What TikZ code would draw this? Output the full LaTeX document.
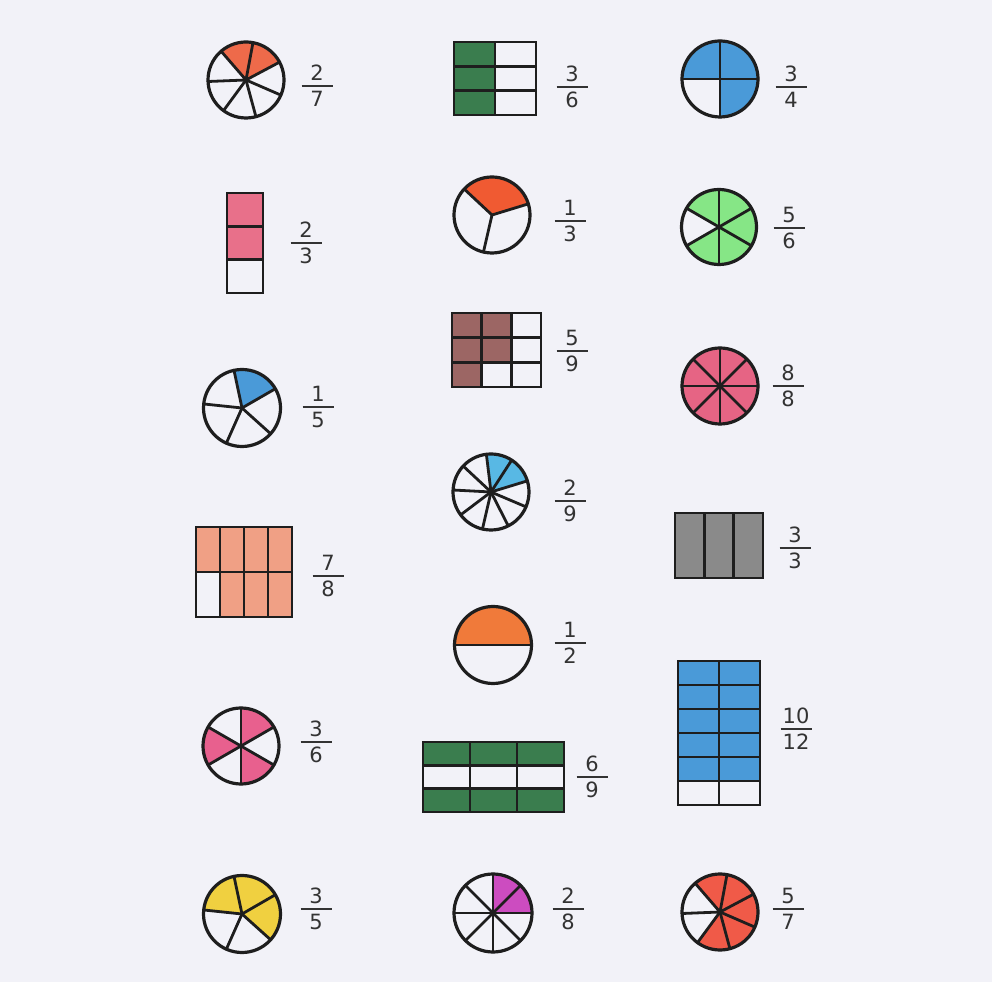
\documentclass[tikz,border=0pt]{standalone}
\usepackage{fontspec}
\setmainfont{DejaVu Sans}

\definecolor{paper}{HTML}{F2F2F8}
\definecolor{ink}{HTML}{1E1E1E}
\definecolor{digit}{HTML}{333333}
\definecolor{redorange}{HTML}{EE6A4A}
\definecolor{rosepink}{HTML}{E8708A}
\definecolor{skyblue}{HTML}{4A9AD8}
\definecolor{salmon}{HTML}{F0A085}
\definecolor{hotpink}{HTML}{E8608E}
\definecolor{sunyellow}{HTML}{F0D040}
\definecolor{pinegreen}{HTML}{3A7D4E}
\definecolor{tomato}{HTML}{F05A32}
\definecolor{cocoa}{HTML}{9C6664}
\definecolor{iceblue}{HTML}{58B8E4}
\definecolor{tangerine}{HTML}{F07A3A}
\definecolor{orchid}{HTML}{CC4CC0}
\definecolor{mint}{HTML}{86E686}
\definecolor{blush}{HTML}{E66484}
\definecolor{slate}{HTML}{8A8A8A}
\definecolor{scarlet}{HTML}{F05A48}

\tikzset{
  rim/.style={draw=ink, line width=3.2pt},
  spoke/.style={draw=ink, line width=2.8pt, line cap=round},
  cellline/.style={draw=ink, line width=2.8pt, line cap=rect},
  frac/.style={inner sep=0pt, text=digit, font=\fontsize{21}{23}\selectfont},
}

% fraction as number over bar over number
\newcommand{\frc}[2]{\vbox{\hbox to 31pt{\hss#1\hss}\kern4pt\hrule height 2.4pt\kern4pt\hbox to 31pt{\hss#2\hss}}}

% #1 centre, #2 radius, #3 parts, #4 first spoke angle, #5 shaded sectors, #6 colour
\newcommand{\piechart}[6]{%
  \foreach \shd in {#5}
    \fill[#6] (#1) -- ++({#4+\shd*360/#3}:#2)
      arc[start angle={#4+\shd*360/#3}, delta angle={360/#3}, radius=#2] -- cycle;
  \foreach \spk in {1,...,#3}
    \draw[spoke] (#1) -- ++({#4+\spk*360/#3}:#2);
  \draw[rim] (#1) circle[radius=#2];
}

% #1 x0, #2 y0 (lower left), #3 cell width, #4 cell height, #5 columns, #6 rows,
% #7 shaded cells col/row (rows from the top), #8 colour
\newcommand{\gridchart}[8]{%
  \foreach \cc/\rr in {#7}
    \fill[#8] ({#1+(\cc-1)*#3},{#2+(#6-\rr)*#4}) rectangle ++(#3,#4);
  \foreach \cc in {0,...,#5}
    \draw[cellline] ({#1+\cc*#3},#2) -- ++(0,{#6*#4});
  \foreach \rr in {0,...,#6}
    \draw[cellline] (#1,{#2+\rr*#4}) -- ++({#5*#3},0);
}

\begin{document}
\begin{tikzpicture}[x=1pt, y=1pt]
  \fill[paper] (0,0) rectangle (992,982);
  \useasboundingbox (0,0) rectangle (992,982);

  % left column
  \coordinate (c27) at (246,902);
  \piechart{c27}{38}{7}{28}{0,1}{redorange}
  \node[frac] (f27) at (317,896) {\frc{2}{7}};

  \gridchart{227}{689}{36}{33.33}{1}{3}{1/1,1/2}{rosepink}
  \node[frac] (f23) at (306,739) {\frc{2}{3}};

  \coordinate (c15) at (242,574);
  \piechart{c15}{38.5}{5}{30}{0}{skyblue}
  \node[frac] (f15) at (318,575) {\frc{1}{5}};

  \gridchart{196}{365}{24}{45}{4}{2}{1/1,2/1,3/1,4/1,2/2,3/2,4/2}{salmon}
  \node[frac] (f78) at (328,406) {\frc{7}{8}};

  \coordinate (c36) at (241,236);
  \piechart{c36}{38}{6}{30}{0,2,4}{hotpink}
  \node[frac] (f36a) at (316,240) {\frc{3}{6}};

  \coordinate (c35) at (242,68);
  \piechart{c35}{38.5}{5}{-42}{0,1,2}{sunyellow}
  \node[frac] (f35) at (316,73) {\frc{3}{5}};

  % middle column
  \gridchart{454}{867}{41}{24.33}{2}{3}{1/1,1/2,1/3}{pinegreen}
  \node[frac] (f36b) at (572,895) {\frc{3}{6}};

  \coordinate (c13) at (492,767);
  \piechart{c13}{38}{3}{17}{0}{tomato}
  \node[frac] (f13) at (570,761) {\frc{1}{3}};

  \gridchart{452}{595}{29.67}{24.67}{3}{3}{1/1,2/1,1/2,2/2,1/3}{cocoa}
  \node[frac] (f59) at (572,631) {\frc{5}{9}};

  \coordinate (c29) at (491,490);
  \piechart{c29}{38}{9}{17}{0,1}{iceblue}
  \node[frac] (f29) at (570,481) {\frc{2}{9}};

  \coordinate (c12) at (493,337);
  \piechart{c12}{38.5}{2}{0}{0}{tangerine}
  \node[frac] (f12) at (570,339) {\frc{1}{2}};

  \gridchart{423}{170}{47}{23.33}{3}{3}{1/1,2/1,3/1,1/3,2/3,3/3}{pinegreen}
  \node[frac] (f69) at (592,205) {\frc{6}{9}};

  \coordinate (c28) at (493,69);
  \piechart{c28}{39}{8}{0}{0,1}{orchid}
  \node[frac] (f28) at (568,73) {\frc{2}{8}};

  % right column
  \coordinate (c34) at (720,903);
  \piechart{c34}{38}{4}{-90}{0,1,2}{skyblue}
  \node[frac] (f34) at (791,895) {\frc{3}{4}};

  \coordinate (c56) at (719,755);
  \piechart{c56}{37.5}{6}{210}{0,1,2,3,4}{mint}
  \node[frac] (f56) at (789,754) {\frc{5}{6}};

  \coordinate (c88) at (720,596);
  \piechart{c88}{38}{8}{0}{0,...,7}{blush}
  \node[frac] (f88) at (788,596) {\frc{8}{8}};

  \gridchart{675}{404}{29.33}{65}{3}{1}{1/1,2/1,3/1}{slate}
  \node[frac] (f33) at (795,434) {\frc{3}{3}};

  \gridchart{678}{177}{41}{24}{2}{6}{1/1,2/1,1/2,2/2,1/3,2/3,1/4,2/4,1/5,2/5}{skyblue}
  \node[frac] (f1012) at (796,253) {\frc{10}{12}};

  \coordinate (c57) at (720,70);
  \piechart{c57}{38}{7}{233.7}{0,1,2,3,4}{scarlet}
  \node[frac] (f57) at (788,73) {\frc{5}{7}};
\end{tikzpicture}
\end{document}
